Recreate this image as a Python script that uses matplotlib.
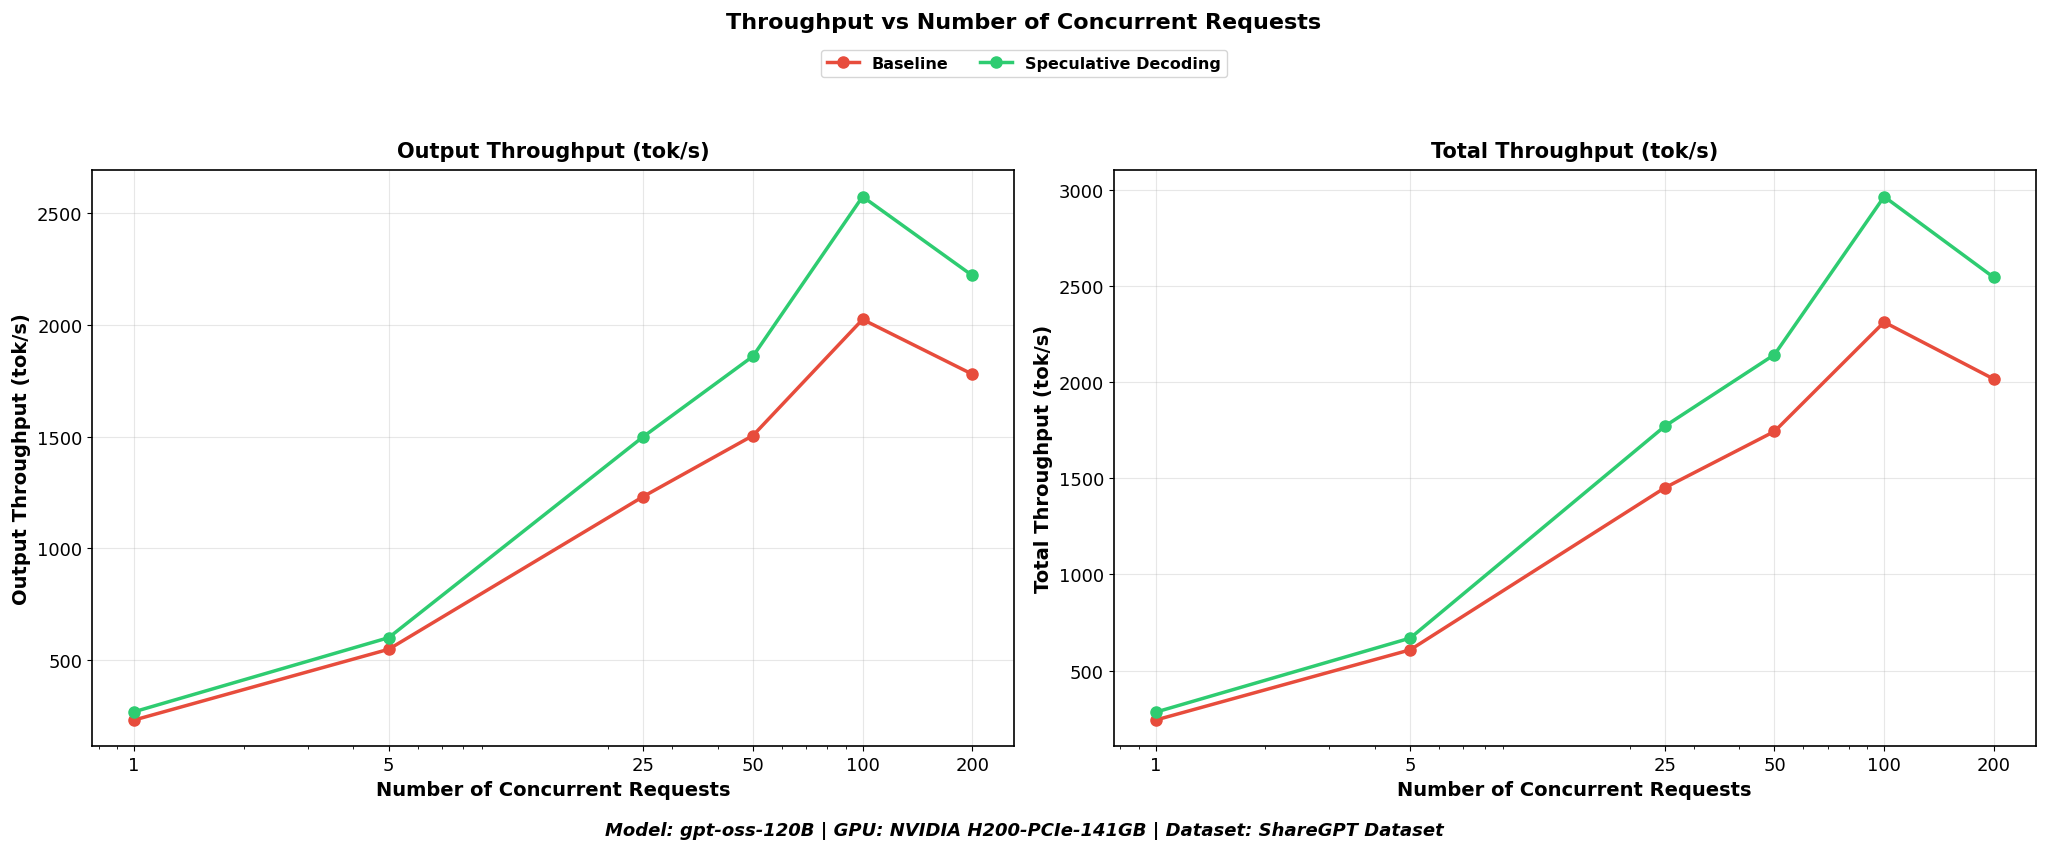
import matplotlib.pyplot as plt
import numpy as np

concurrency = [1, 5, 25, 50, 100, 200]
tick_labels = ["1", "5", "25", "50", "100", "200"]

output_baseline = [231, 548, 1232, 1505, 2025, 1780]
output_spec = [268, 600, 1500, 1860, 2575, 2222]
total_baseline = [243, 608, 1450, 1743, 2311, 2015]
total_spec = [284, 669, 1770, 2142, 2963, 2543]

panels = [
    ("Output Throughput (tok/s)", "Output Throughput (tok/s)", output_baseline, output_spec),
    ("Total Throughput (tok/s)", "Total Throughput (tok/s)", total_baseline, total_spec),
]

fig, axes = plt.subplots(1, 2, figsize=(20.48, 8.53), dpi=100)
fig.subplots_adjust(left=0.045, right=0.994, bottom=0.124, top=0.799, wspace=0.108)

for ax, (title, ylabel, base, spec) in zip(axes, panels):
    ax.plot(concurrency, base, marker="o", color="#e74c3c", linewidth=2.5,
            markersize=8, label="Baseline")
    ax.plot(concurrency, spec, marker="o", color="#2ecc71", linewidth=2.5,
            markersize=8, label="Speculative Decoding")
    ax.set_xscale("log")
    ax.set_xticks(concurrency)
    ax.set_xticklabels(tick_labels)
    ax.set_title(title, fontsize=15, fontweight="bold", pad=10)
    ax.set_xlabel("Number of Concurrent Requests", fontsize=14, fontweight="bold")
    ax.set_ylabel(ylabel, fontsize=14, fontweight="bold")
    ax.tick_params(axis="both", which="major", labelsize=13)
    ax.grid(True, alpha=0.3)
    for s in ax.spines.values():
        s.set_linewidth(1.2)

handles, labels = axes[0].get_legend_handles_labels()
fig.legend(handles, labels, loc="upper center", bbox_to_anchor=(0.5, 0.95), ncol=2,
           frameon=True, fancybox=True, shadow=False,
           prop={"weight": "bold", "size": 11.5})
fig.suptitle("Throughput vs Number of Concurrent Requests", fontsize=16, fontweight="bold", y=0.985)
fig.text(0.5, 0.02, "Model: gpt-oss-120B | GPU: NVIDIA H200-PCIe-141GB | Dataset: ShareGPT Dataset",
         ha="center", fontsize=13, fontweight="bold", style="italic")

fig.savefig("out.png", dpi=100)
